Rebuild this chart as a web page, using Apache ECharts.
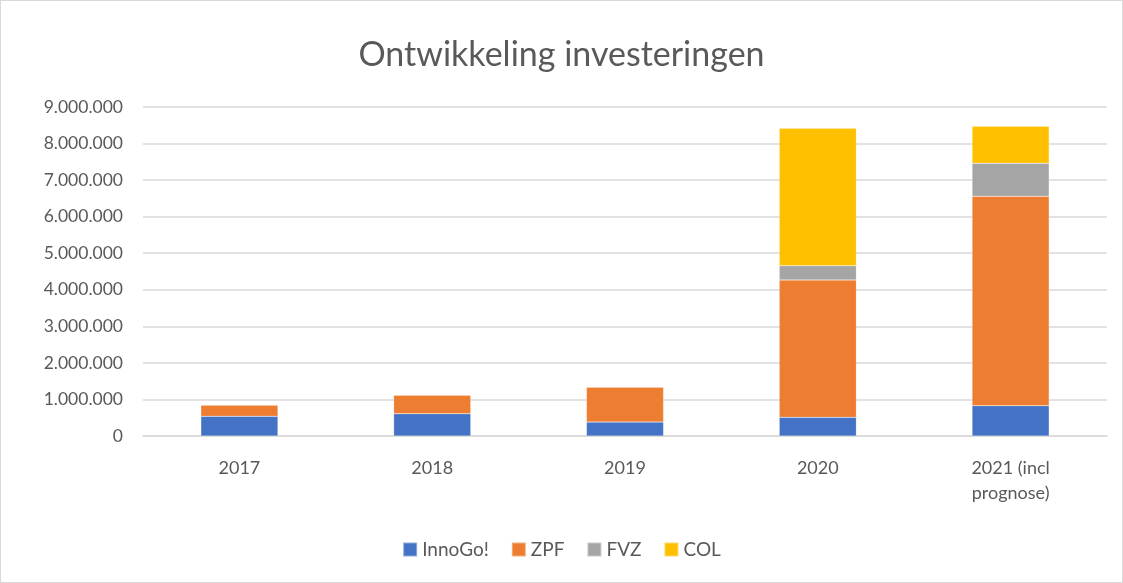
<!DOCTYPE html>
<html>
<head>
<meta charset="utf-8">
<script src="https://cdn.jsdelivr.net/npm/echarts@6/dist/echarts.min.js"></script>
<style>
html,body{margin:0;padding:0;background:#fff;}
#chart{width:1121px;height:581px;border:1px solid #d9d9d9;}
</style>
</head>
<body>
<div id="chart"></div>
<script>
var categories = ['2017', '2018', '2019', '2020', '2021 (incl\nprognose)'];
var innogo = [540000, 610000, 380000, 510000, 830000];
var zpf = [310000, 510000, 960000, 3760000, 5730000];
var fvz = [0, 0, 0, 390000, 900000];
var col = [0, 0, 0, 3760000, 1010000];

var colors = ['#4472c4', '#ed7d31', '#a5a5a5', '#ffc000'];
var textColor = '#595959';
var font = 'Lato, "Open Sans", sans-serif';

function fmt(v){
	return String(v).replace(/\B(?=(\d{3})+(?!\d))/g, '.');
}

var chart = echarts.init(document.getElementById('chart'));

function bar(name, data){
	return {
		name: name,
		type: 'bar',
		stack: 'total',
		barWidth: '40%',
		data: data,
		itemStyle: {borderColor: 'rgba(255,255,255,0.4)', borderWidth: 0.5}
	};
}

var option = {
	color: colors,
	animation: false,
	title: {
		text: 'Ontwikkeling investeringen',
		left: 'center',
		top: 32,
		textStyle: {fontFamily: font, fontSize: 34, fontWeight: 'normal', color: textColor}
	},
	grid: {left: 142, right: 15, top: 106, bottom: 146},
	legend: {
		bottom: 18,
		left: 'center',
		itemWidth: 14,
		itemHeight: 14,
		itemGap: 22,
		icon: 'rect',
		textStyle: {fontFamily: font, fontSize: 19, color: textColor}
	},
	xAxis: {
		type: 'category',
		data: categories,
		axisLine: {lineStyle: {color: '#d9d9d9', width: 1.5}},
		axisTick: {show: false},
		axisLabel: {fontFamily: font, fontSize: 18, color: textColor, margin: 20, lineHeight: 25}
	},
	yAxis: {
		type: 'value',
		min: 0,
		max: 9000000,
		interval: 1000000,
		axisLine: {show: false},
		axisTick: {show: false},
		splitLine: {lineStyle: {color: '#d9d9d9', width: 1.5}},
		axisLabel: {fontFamily: font, fontSize: 17.5, color: textColor, margin: 20, formatter: fmt}
	},
	series: [
		bar('InnoGo!', innogo),
		bar('ZPF', zpf),
		bar('FVZ', fvz),
		bar('COL', col)
	]
};

chart.setOption(option);
</script>
</body>
</html>
